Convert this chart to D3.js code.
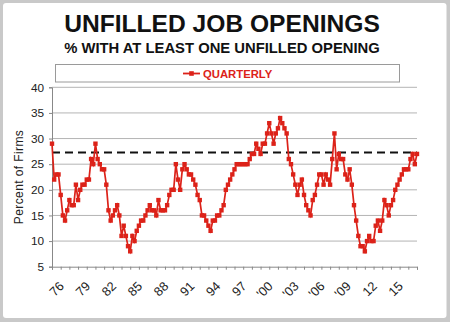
<!DOCTYPE html>
<html>
<head>
<meta charset="utf-8">
<script src="https://cdn.jsdelivr.net/npm/d3@7"></script>
<style>
  html, body { margin: 0; padding: 0; background: #c9c9c9; }
  svg { display: block; }
  text { font-family: "Liberation Sans", Arial, Helvetica, sans-serif; }
</style>
</head>
<body>
<svg id="chart" width="450" height="322"></svg>
<script>
// ---- data ----
const title = "UNFILLED JOB OPENINGS";
const subtitle = "% WITH AT LEAST ONE UNFILLED OPENING";
const seriesName = "QUARTERLY";
const yAxisTitle = "Percent of Firms";
const startYear = 1974;
const endYear = 2016;
// quarterly values, 1974Q1 .. 2016Q1
const values = [
  29,22,23,23, 19,15,14,16, 18,17,17,21, 18,20,21,21, 22,22,26,25,
  29,26,25,24, 24,21,16,14, 15,16,17,15, 11,13,11,9,  8,11,10,12,
  13,14,14,15, 16,17,16,16, 15,18,16,16, 16,17,19,20, 20,25,22,20,
  24,25,24,23, 23,22,21,19, 18,15,15,14, 13,12,14,14, 15,15,16,17,
  20,21,22,23, 24,25,25,25, 25,25,25,26, 27,27,29,28, 27,29,29,31,
  33,31,29,31, 32,34,33,32, 31,26,25,23, 21,19,21,22, 19,17,16,15,
  18,19,21,23, 23,21,23,22, 21,26,31,24, 27,26,26,23, 22,24,21,17,
  14,11,9,9,   8,10,11,10,  10,13,14,12, 14,18,17,15, 17,18,20,21,
  22,23,24,24, 24,26,27,25, 27
];
const referenceLevel = 27.3;
const yTicks = [5,10,15,20,25,30,35,40];
const xLabelYears = [1976,1979,1982,1985,1988,1991,1994,1997,2000,2003,2006,2009,2012,2015];
const xLabels = ["76","79","82","85","88","91","94","97","'00","'03","'06","'09","12","15"];

// categories (quarter positions as fractional years)
const categories = values.map((v, i) => startYear + i / 4);
const points = values.map((v, i) => ({t: categories[i], v}));

// ---- drawing ----
const svg = d3.select("#chart");
const W = 450, H = 322;
const red = "#dc2219";

svg.append("rect").attr("x", 0).attr("y", 0).attr("width", W).attr("height", H).attr("fill", "#c9c9c9");
svg.append("rect").attr("x", 3).attr("y", 3).attr("width", 443.5).attr("height", 315)
  .attr("rx", 3).attr("fill", "#ffffff");

svg.append("text").attr("x", 222).attr("y", 32).attr("text-anchor", "middle")
  .attr("font-size", 24.6).attr("font-weight", "bold").attr("fill", "#111").text(title);
svg.append("text").attr("x", 222).attr("y", 53).attr("text-anchor", "middle")
  .attr("font-size", 14.8).attr("font-weight", "bold").attr("fill", "#111").text(subtitle);

const x = d3.scaleLinear().domain([startYear, endYear]).range([52, 417]);
const y = d3.scaleLinear().domain([5, 40]).range([266.7, 87.3]);

// legend box
svg.append("rect").attr("x", 55.5).attr("y", 64.5).attr("width", 344).attr("height", 17.5)
  .attr("fill", "#fff").attr("stroke", "#9a9a9a").attr("stroke-width", 1);
svg.append("line").attr("x1", 183).attr("x2", 200).attr("y1", 73.5).attr("y2", 73.5)
  .attr("stroke", red).attr("stroke-width", 1.8);
svg.append("rect").attr("x", 189.2).attr("y", 71.2).attr("width", 4.6).attr("height", 4.6).attr("fill", red);
svg.append("text").attr("x", 203).attr("y", 77.5).attr("font-size", 11.3).attr("font-weight", "bold")
  .attr("fill", red).text(seriesName);

// gridlines
svg.append("g").selectAll("line").data(yTicks.filter(d => d > 5)).join("line")
  .attr("x1", 52).attr("x2", 417).attr("y1", d => y(d)).attr("y2", d => y(d))
  .attr("stroke", "#b4b4b4").attr("stroke-width", 1);

// y axis
const yAxis = d3.axisLeft(y).tickValues(yTicks).tickSize(3).tickPadding(5).tickFormat(d3.format("d"));
const gy = svg.append("g").attr("transform", "translate(52,0)").call(yAxis);
gy.select(".domain").attr("stroke", "#888");
gy.selectAll(".tick line").attr("stroke", "#888");
gy.selectAll(".tick text").attr("font-size", 11.8).attr("fill", "#222")
  .style("font-family", '"Liberation Sans", Arial, sans-serif');

// x axis
const yearTicks = d3.range(startYear, endYear + 1);
const xAxis = d3.axisBottom(x).tickValues(yearTicks).tickSize(3).tickFormat("");
const gx = svg.append("g").attr("transform", "translate(0,266.7)").call(xAxis);
gx.select(".domain").attr("stroke", "#888");
gx.selectAll(".tick line").attr("stroke", "#888");

svg.append("g").selectAll("text").data(xLabelYears).join("text")
  .attr("transform", d => `translate(${x(d) - 4.5},287) rotate(-45)`)
  .attr("text-anchor", "end").attr("font-size", 12.8).attr("fill", "#222")
  .text((d, i) => xLabels[i]);

// y title
svg.append("text").attr("transform", `translate(23,177) rotate(-90)`)
  .attr("text-anchor", "middle").attr("font-size", 12).attr("fill", "#222")
  .attr("letter-spacing", 0.4).text(yAxisTitle);

// reference dashed line
svg.append("line").attr("x1", 52).attr("x2", 417)
  .attr("y1", y(referenceLevel)).attr("y2", y(referenceLevel))
  .attr("stroke", "#111").attr("stroke-width", 2).attr("stroke-dasharray", "8,5");

// series
const line = d3.line().x(d => x(d.t)).y(d => y(d.v));
svg.append("path").datum(points).attr("d", line).attr("fill", "none")
  .attr("stroke", red).attr("stroke-width", 1.7);
svg.append("g").selectAll("rect").data(points).join("rect")
  .attr("x", d => x(d.t) - 2.2).attr("y", d => y(d.v) - 2.2)
  .attr("width", 4.4).attr("height", 4.4).attr("fill", red);
</script>
</body>
</html>
